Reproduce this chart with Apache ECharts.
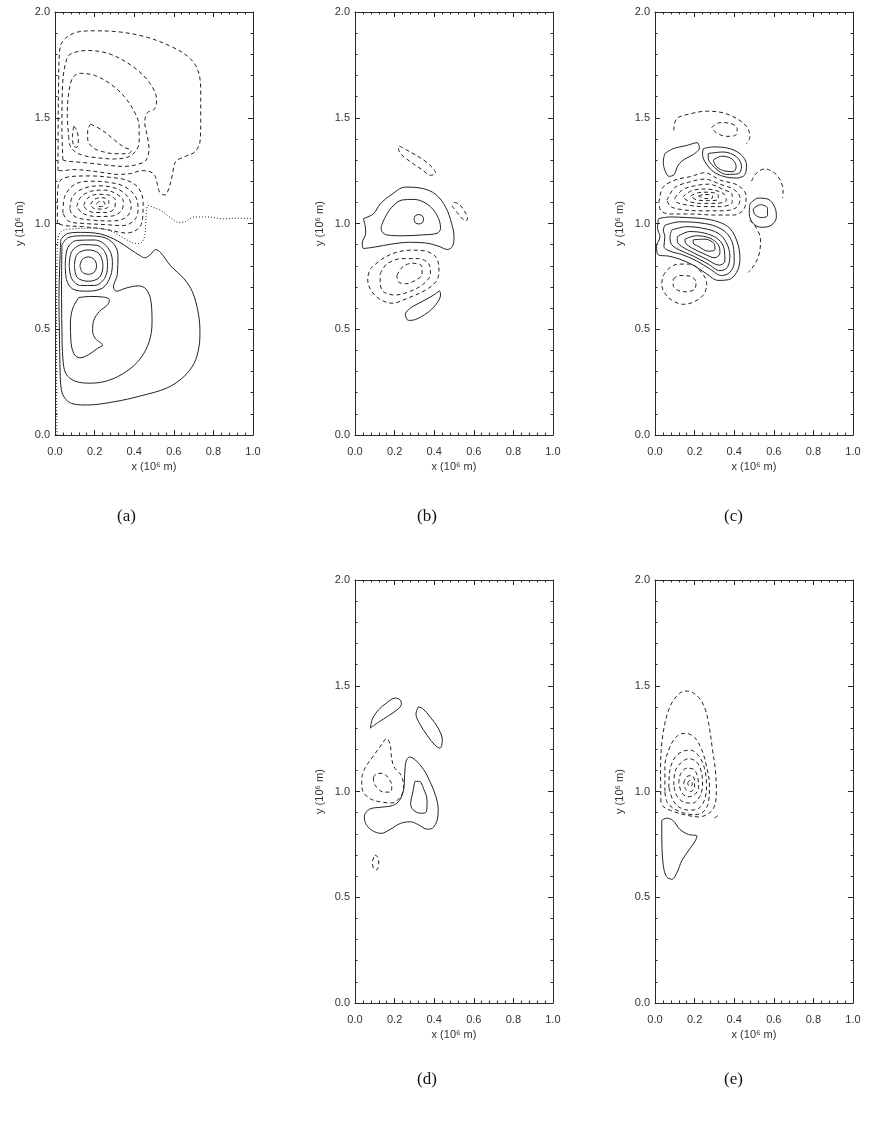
<!DOCTYPE html>
<html>
<head>
<meta charset="utf-8">
<script src="https://cdn.jsdelivr.net/npm/echarts@6/dist/echarts.min.js"></script>
<style>
  html, body { margin: 0; padding: 0; background: #fff; }
  #chart { width: 880px; height: 1121px; }
</style>
</head>
<body>
<div id="chart"></div>
<script>
// Tick labels shared by every panel (units of 10^6 m)
const xTickLabels = ['0.0', '0.2', '0.4', '0.6', '0.8', '1.0'];
const yTickLabels = ['0.0', '0.5', '1.0', '1.5', '2.0'];
const panelCaptions = ['(a)', '(b)', '(c)', '(d)', '(e)'];

// ---- Panel (a): contour polylines, [x, y] in 10^6 m ----
const aSolid = [
  [[0.029,0.923],[0.062,0.952],[0.13,0.958],[0.231,0.95],[0.315,0.918],[0.382,0.877],[0.433,0.846],[0.453,0.838],[0.483,0.854],[0.508,0.877],[0.534,0.862],[0.584,0.8],[0.652,0.738],[0.694,0.677],[0.722,0.585],[0.732,0.492],[0.727,0.415],[0.702,0.338],[0.652,0.277],[0.567,0.223],[0.433,0.185],[0.298,0.157],[0.163,0.142],[0.096,0.146],[0.054,0.169],[0.032,0.215],[0.025,0.338],[0.022,0.492],[0.02,0.646],[0.024,0.8],[0.029,0.923]],
  [[0.035,0.9],[0.07,0.935],[0.15,0.942],[0.24,0.936],[0.295,0.905],[0.318,0.85],[0.315,0.76],[0.295,0.7],[0.31,0.68],[0.36,0.695],[0.42,0.705],[0.46,0.69],[0.485,0.63],[0.49,0.53],[0.475,0.44],[0.43,0.36],[0.36,0.3],[0.27,0.258],[0.18,0.245],[0.1,0.255],[0.055,0.29],[0.04,0.36],[0.035,0.5],[0.033,0.7],[0.035,0.9]],
  [[0.12,0.65],[0.18,0.655],[0.245,0.652],[0.275,0.64],[0.265,0.615],[0.225,0.585],[0.195,0.54],[0.19,0.49],[0.205,0.455],[0.24,0.425],[0.215,0.41],[0.17,0.38],[0.125,0.365],[0.095,0.385],[0.08,0.45],[0.078,0.53],[0.09,0.6],[0.12,0.65]],
  [[0.052,0.8],[0.062,0.88],[0.11,0.92],[0.2,0.922],[0.265,0.888],[0.29,0.82],[0.28,0.75],[0.24,0.695],[0.16,0.68],[0.09,0.69],[0.058,0.735],[0.052,0.8]],
  [[0.072,0.8],[0.085,0.868],[0.14,0.9],[0.21,0.897],[0.255,0.86],[0.265,0.8],[0.25,0.74],[0.2,0.707],[0.13,0.707],[0.085,0.738],[0.072,0.8]],
  [[0.098,0.8],[0.112,0.855],[0.168,0.875],[0.222,0.858],[0.242,0.8],[0.224,0.745],[0.168,0.727],[0.112,0.745],[0.098,0.8]],
  [[0.126,0.8],[0.138,0.83],[0.168,0.842],[0.198,0.83],[0.21,0.8],[0.198,0.77],[0.168,0.76],[0.138,0.77],[0.126,0.8]]
];
const aDashed = [
  [[0.015,1.25],[0.016,1.45],[0.018,1.65],[0.025,1.83],[0.054,1.877],[0.113,1.905],[0.197,1.911],[0.332,1.905],[0.466,1.88],[0.584,1.838],[0.668,1.792],[0.719,1.731],[0.736,1.631],[0.736,1.492],[0.732,1.385],[0.705,1.338],[0.652,1.315],[0.609,1.292],[0.593,1.231],[0.576,1.169],[0.556,1.135],[0.53,1.146],[0.517,1.185],[0.505,1.225],[0.48,1.245],[0.44,1.25],[0.38,1.236],[0.32,1.232],[0.25,1.24],[0.17,1.25],[0.09,1.255],[0.04,1.25],[0.015,1.25]],
  [[0.04,1.3],[0.035,1.45],[0.038,1.65],[0.062,1.785],[0.096,1.808],[0.163,1.818],[0.281,1.8],[0.399,1.738],[0.48,1.662],[0.513,1.585],[0.503,1.542],[0.466,1.523],[0.453,1.477],[0.466,1.415],[0.475,1.354],[0.46,1.3],[0.42,1.28],[0.35,1.27],[0.27,1.275],[0.2,1.283],[0.12,1.29],[0.06,1.295],[0.04,1.3]],
  [[0.07,1.4],[0.062,1.52],[0.07,1.62],[0.09,1.69],[0.13,1.71],[0.2,1.7],[0.28,1.66],[0.35,1.6],[0.4,1.53],[0.425,1.46],[0.425,1.39],[0.41,1.345],[0.37,1.315],[0.3,1.305],[0.22,1.31],[0.15,1.32],[0.1,1.34],[0.075,1.37],[0.07,1.4]],
  [[0.18,1.47],[0.24,1.44],[0.3,1.395],[0.35,1.36],[0.385,1.345],[0.37,1.33],[0.3,1.33],[0.24,1.34],[0.19,1.36],[0.165,1.4],[0.165,1.44],[0.18,1.47]],
  [[0.095,1.46],[0.11,1.44],[0.118,1.4],[0.11,1.36],[0.095,1.365],[0.088,1.41],[0.095,1.46]],
  [[0.012,1.0],[0.012,1.12],[0.025,1.2],[0.08,1.222],[0.18,1.225],[0.28,1.218],[0.36,1.205],[0.42,1.17],[0.445,1.1],[0.442,1.02],[0.42,0.975],[0.36,0.955],[0.26,0.972],[0.14,0.985],[0.05,0.99],[0.012,1.0]],
  [[0.04,1.05],[0.05,1.13],[0.1,1.185],[0.18,1.2],[0.27,1.195],[0.35,1.175],[0.405,1.13],[0.42,1.07],[0.4,1.015],[0.34,0.99],[0.25,0.995],[0.15,1.0],[0.07,1.01],[0.04,1.05]],
  [[0.075,1.07],[0.09,1.13],[0.15,1.168],[0.23,1.178],[0.31,1.165],[0.365,1.13],[0.385,1.08],[0.36,1.03],[0.29,1.012],[0.2,1.015],[0.12,1.025],[0.085,1.045],[0.075,1.07]],
  [[0.11,1.08],[0.13,1.125],[0.18,1.152],[0.25,1.158],[0.31,1.14],[0.345,1.105],[0.335,1.06],[0.285,1.035],[0.21,1.033],[0.14,1.048],[0.11,1.08]],
  [[0.145,1.085],[0.165,1.12],[0.215,1.138],[0.27,1.135],[0.305,1.11],[0.3,1.072],[0.26,1.052],[0.2,1.052],[0.16,1.065],[0.145,1.085]],
  [[0.18,1.09],[0.2,1.115],[0.24,1.122],[0.272,1.105],[0.268,1.078],[0.235,1.068],[0.195,1.072],[0.18,1.09]],
  [[0.21,1.094],[0.225,1.104],[0.248,1.102],[0.252,1.088],[0.235,1.08],[0.215,1.083],[0.21,1.094]]
];
const aZero = [
  [[0.01,0.0],[0.008,0.2],[0.008,0.5],[0.01,0.8],[0.015,0.93],[0.035,0.965],[0.1,0.975],[0.2,0.978],[0.28,0.965],[0.34,0.935],[0.39,0.91],[0.425,0.905],[0.45,0.93],[0.458,1.0],[0.462,1.06],[0.47,1.085],[0.5,1.075],[0.534,1.062],[0.58,1.03],[0.626,1.005],[0.66,1.01],[0.702,1.031],[0.768,1.031],[0.85,1.022],[0.92,1.025],[1.0,1.023]]
];

// ---- Panel (b) ----
const bSolid = [
  [[0.042,1.023],[0.093,1.046],[0.127,1.092],[0.186,1.138],[0.254,1.172],[0.339,1.166],[0.407,1.138],[0.458,1.077],[0.488,1.0],[0.5,0.938],[0.492,0.892],[0.466,0.877],[0.424,0.892],[0.356,0.908],[0.271,0.911],[0.186,0.903],[0.102,0.889],[0.042,0.882],[0.037,0.908],[0.054,0.954],[0.051,0.992],[0.042,1.023]],
  [[0.132,0.985],[0.153,1.031],[0.186,1.077],[0.237,1.111],[0.297,1.114],[0.364,1.092],[0.415,1.038],[0.432,0.977],[0.415,0.954],[0.339,0.946],[0.237,0.942],[0.161,0.946],[0.136,0.962],[0.132,0.985]],
  [[0.298,1.02],[0.305,1.037],[0.322,1.042],[0.339,1.037],[0.346,1.02],[0.339,1.003],[0.322,0.998],[0.305,1.003],[0.298,1.02]],
  [[0.263,0.546],[0.254,0.569],[0.28,0.6],[0.339,0.631],[0.398,0.662],[0.427,0.68],[0.432,0.662],[0.407,0.615],[0.364,0.577],[0.305,0.546],[0.271,0.542],[0.263,0.546]]
];
const bDashed = [
  [[0.224,1.366],[0.28,1.338],[0.347,1.3],[0.393,1.262],[0.407,1.238],[0.381,1.228],[0.339,1.254],[0.28,1.292],[0.234,1.326],[0.22,1.354],[0.224,1.366]],
  [[0.5,1.1],[0.525,1.092],[0.551,1.062],[0.568,1.023],[0.559,1.012],[0.534,1.031],[0.508,1.062],[0.492,1.085],[0.5,1.1]],
  [[0.076,0.785],[0.136,0.831],[0.203,0.862],[0.288,0.874],[0.373,0.865],[0.415,0.831],[0.424,0.769],[0.407,0.723],[0.356,0.685],[0.271,0.649],[0.186,0.623],[0.119,0.646],[0.076,0.692],[0.064,0.738],[0.076,0.785]],
  [[0.127,0.762],[0.161,0.808],[0.237,0.834],[0.322,0.834],[0.373,0.808],[0.381,0.762],[0.347,0.715],[0.28,0.68],[0.203,0.662],[0.144,0.677],[0.127,0.723],[0.127,0.762]],
  [[0.212,0.754],[0.237,0.792],[0.288,0.812],[0.336,0.8],[0.339,0.762],[0.305,0.731],[0.254,0.715],[0.217,0.726],[0.212,0.754]]
];

// ---- Panel (c) ----
const cSolid = [
  [[0.05,1.331],[0.092,1.354],[0.16,1.369],[0.213,1.382],[0.224,1.357],[0.193,1.326],[0.151,1.305],[0.118,1.277],[0.096,1.231],[0.072,1.223],[0.049,1.254],[0.042,1.295],[0.05,1.331]],
  [[0.244,1.354],[0.294,1.362],[0.378,1.354],[0.437,1.323],[0.462,1.277],[0.454,1.231],[0.412,1.215],[0.345,1.223],[0.294,1.246],[0.252,1.292],[0.24,1.331],[0.244,1.354]],
  [[0.269,1.331],[0.345,1.338],[0.412,1.315],[0.437,1.269],[0.42,1.235],[0.361,1.232],[0.319,1.25],[0.286,1.28],[0.269,1.308],[0.269,1.331]],
  [[0.294,1.3],[0.336,1.318],[0.387,1.306],[0.41,1.269],[0.395,1.245],[0.353,1.248],[0.311,1.268],[0.294,1.3]],
  [[0.479,1.092],[0.521,1.12],[0.571,1.115],[0.605,1.077],[0.613,1.031],[0.588,0.992],[0.538,0.982],[0.496,1.0],[0.476,1.046],[0.479,1.092]],
  [[0.496,1.069],[0.533,1.089],[0.568,1.072],[0.568,1.038],[0.538,1.028],[0.504,1.043],[0.496,1.069]],
  [[0.017,1.023],[0.076,1.031],[0.16,1.028],[0.244,1.023],[0.319,1.008],[0.378,0.977],[0.417,0.908],[0.429,0.831],[0.412,0.769],[0.37,0.734],[0.319,0.731],[0.261,0.762],[0.193,0.803],[0.126,0.831],[0.067,0.846],[0.017,0.851],[0.008,0.892],[0.025,0.938],[0.013,0.977],[0.017,1.023]],
  [[0.05,0.992],[0.126,1.008],[0.227,1.003],[0.311,0.985],[0.37,0.946],[0.398,0.877],[0.4,0.815],[0.378,0.769],[0.336,0.754],[0.277,0.785],[0.21,0.823],[0.134,0.854],[0.076,0.869],[0.045,0.892],[0.05,0.938],[0.042,0.969],[0.05,0.992]],
  [[0.084,0.969],[0.16,0.985],[0.244,0.977],[0.319,0.954],[0.361,0.908],[0.378,0.846],[0.365,0.792],[0.328,0.777],[0.269,0.808],[0.193,0.846],[0.126,0.874],[0.084,0.9],[0.076,0.938],[0.084,0.969]],
  [[0.113,0.938],[0.176,0.962],[0.252,0.954],[0.319,0.926],[0.35,0.877],[0.353,0.823],[0.324,0.803],[0.261,0.831],[0.193,0.862],[0.134,0.892],[0.113,0.915],[0.113,0.938]],
  [[0.151,0.926],[0.21,0.942],[0.277,0.931],[0.319,0.9],[0.328,0.862],[0.303,0.838],[0.244,0.858],[0.185,0.885],[0.156,0.905],[0.151,0.926]],
  [[0.193,0.923],[0.252,0.926],[0.298,0.905],[0.303,0.877],[0.269,0.869],[0.219,0.892],[0.193,0.908],[0.193,0.923]]
];
const cDashed = [
  [[0.095,1.44],[0.109,1.495],[0.176,1.518],[0.261,1.531],[0.345,1.523],[0.42,1.492],[0.466,1.454],[0.479,1.408],[0.462,1.377]],
  [[0.286,1.454],[0.328,1.477],[0.378,1.474],[0.415,1.449],[0.408,1.418],[0.361,1.412],[0.311,1.428],[0.286,1.454]],
  [[0.487,1.2],[0.513,1.238],[0.555,1.258],[0.605,1.238],[0.635,1.2],[0.647,1.154],[0.644,1.12]],
  [[0.479,1.015],[0.513,0.977],[0.533,0.923],[0.529,0.869],[0.513,0.823],[0.487,0.785],[0.471,0.769]],
  [[0.042,0.754],[0.067,0.785],[0.118,0.808],[0.176,0.808],[0.235,0.769],[0.261,0.715],[0.244,0.662],[0.193,0.628],[0.143,0.618],[0.084,0.638],[0.045,0.677],[0.034,0.715],[0.042,0.754]],
  [[0.092,0.738],[0.126,0.754],[0.176,0.751],[0.207,0.723],[0.202,0.692],[0.16,0.677],[0.113,0.685],[0.092,0.708],[0.092,0.738]],
  [[0.02,1.1],[0.04,1.17],[0.1,1.205],[0.18,1.222],[0.25,1.24],[0.33,1.205],[0.42,1.18],[0.46,1.13],[0.45,1.07],[0.4,1.04],[0.3,1.04],[0.18,1.045],[0.08,1.045],[0.03,1.06],[0.02,1.1]],
  [[0.06,1.11],[0.1,1.17],[0.17,1.195],[0.25,1.21],[0.33,1.185],[0.4,1.16],[0.43,1.12],[0.41,1.075],[0.34,1.06],[0.24,1.06],[0.14,1.065],[0.08,1.08],[0.06,1.11]],
  [[0.1,1.12],[0.14,1.16],[0.2,1.178],[0.27,1.186],[0.34,1.163],[0.39,1.135],[0.39,1.1],[0.33,1.08],[0.24,1.08],[0.16,1.088],[0.11,1.1],[0.1,1.12]],
  [[0.14,1.125],[0.18,1.153],[0.24,1.163],[0.3,1.158],[0.35,1.138],[0.36,1.11],[0.31,1.095],[0.23,1.095],[0.17,1.105],[0.14,1.125]],
  [[0.18,1.13],[0.22,1.146],[0.27,1.148],[0.32,1.134],[0.32,1.115],[0.27,1.108],[0.21,1.112],[0.18,1.13]],
  [[0.22,1.13],[0.25,1.137],[0.29,1.132],[0.29,1.12],[0.25,1.118],[0.22,1.13]]
];

// ---- Panel (d) ----
const dSolid = [
  [[0.078,1.3],[0.088,1.343],[0.119,1.386],[0.161,1.42],[0.203,1.442],[0.229,1.432],[0.234,1.412],[0.212,1.386],[0.169,1.358],[0.119,1.328],[0.078,1.3]],
  [[0.319,1.4],[0.342,1.392],[0.381,1.351],[0.42,1.3],[0.441,1.243],[0.429,1.205],[0.403,1.22],[0.364,1.266],[0.327,1.32],[0.308,1.366],[0.319,1.4]],
  [[0.051,0.895],[0.076,0.918],[0.136,0.926],[0.19,0.934],[0.224,0.957],[0.246,1.011],[0.251,1.081],[0.258,1.143],[0.276,1.163],[0.305,1.149],[0.347,1.103],[0.381,1.042],[0.407,0.98],[0.42,0.918],[0.415,0.865],[0.39,0.826],[0.364,0.822],[0.322,0.842],[0.28,0.857],[0.229,0.849],[0.178,0.821],[0.132,0.802],[0.088,0.815],[0.056,0.845],[0.047,0.88],[0.051,0.895]],
  [[0.302,1.048],[0.325,1.048],[0.347,1.012],[0.364,0.958],[0.361,0.905],[0.331,0.897],[0.292,0.915],[0.281,0.943],[0.292,0.997],[0.302,1.048]]
];
const dDashed = [
  [[0.034,1.066],[0.051,1.112],[0.085,1.158],[0.127,1.212],[0.161,1.251],[0.178,1.22],[0.183,1.174],[0.195,1.12],[0.234,1.074],[0.246,1.02],[0.229,0.974],[0.186,0.946],[0.127,0.951],[0.076,0.966],[0.042,0.997],[0.034,1.035],[0.034,1.066]],
  [[0.093,1.066],[0.11,1.085],[0.139,1.086],[0.166,1.066],[0.186,1.028],[0.178,0.997],[0.144,0.997],[0.11,1.02],[0.095,1.043],[0.093,1.066]],
  [[0.1,0.7],[0.115,0.69],[0.12,0.66],[0.11,0.63],[0.095,0.635],[0.088,0.665],[0.1,0.7]]
];

// ---- Panel (e) ----
const eSolid = [
  [[0.034,0.863],[0.059,0.874],[0.09,0.863],[0.127,0.82],[0.169,0.797],[0.212,0.789],[0.203,0.766],[0.175,0.728],[0.136,0.674],[0.11,0.615],[0.085,0.585],[0.058,0.598],[0.042,0.65],[0.035,0.75],[0.034,0.863]]
];
const eDashed = [
  [[0.03,0.95],[0.028,1.1],[0.04,1.27],[0.075,1.4],[0.125,1.465],[0.165,1.475],[0.22,1.445],[0.255,1.385],[0.275,1.3],[0.29,1.2],[0.305,1.1],[0.31,1.0],[0.3,0.93],[0.27,0.895],[0.22,0.88],[0.15,0.89],[0.08,0.91],[0.04,0.93],[0.03,0.95]],
  [[0.05,1.0],[0.05,1.12],[0.075,1.21],[0.115,1.265],[0.155,1.275],[0.2,1.255],[0.235,1.2],[0.26,1.12],[0.275,1.03],[0.27,0.95],[0.245,0.905],[0.2,0.89],[0.14,0.9],[0.09,0.922],[0.06,0.952],[0.05,1.0]],
  [[0.07,1.02],[0.075,1.1],[0.1,1.16],[0.14,1.19],[0.18,1.195],[0.22,1.17],[0.25,1.11],[0.26,1.03],[0.25,0.96],[0.22,0.92],[0.17,0.912],[0.12,0.927],[0.09,0.96],[0.07,1.02]],
  [[0.095,1.03],[0.1,1.09],[0.13,1.135],[0.17,1.155],[0.21,1.14],[0.235,1.09],[0.24,1.03],[0.225,0.975],[0.19,0.945],[0.145,0.95],[0.11,0.98],[0.095,1.03]],
  [[0.12,1.04],[0.13,1.085],[0.16,1.11],[0.195,1.105],[0.215,1.07],[0.22,1.02],[0.2,0.985],[0.165,0.975],[0.135,0.995],[0.12,1.04]],
  [[0.145,1.04],[0.16,1.07],[0.185,1.075],[0.2,1.05],[0.2,1.02],[0.18,1.0],[0.155,1.01],[0.145,1.04]],
  [[0.165,1.04],[0.175,1.052],[0.188,1.047],[0.188,1.03],[0.172,1.025],[0.165,1.04]],
  [[0.3,0.875],[0.312,0.882],[0.322,0.89]]
];

// ---- Layout (pixels) ----
const plotW = 198, plotH = 423;
const gridBoxes = [
  { left: 55,  top: 12 },
  { left: 355, top: 12 },
  { left: 655, top: 12 },
  { left: 355, top: 580 },
  { left: 655, top: 580 }
];
const captionPos = [[128, 517], [428, 517], [735, 517], [428, 1080], [735, 1080]];

const contourSets = [
  { solid: aSolid, dashed: aDashed, dotted: aZero },
  { solid: bSolid, dashed: bDashed, dotted: [] },
  { solid: cSolid, dashed: cDashed, dotted: [] },
  { solid: dSolid, dashed: dDashed, dotted: [] },
  { solid: eSolid, dashed: eDashed, dotted: [] }
];

const ink = '#222';
const frameColor = '#2a2a2a';
const labelFont = { fontFamily: 'Liberation Sans, Arial, sans-serif', fontSize: 11, color: '#333' };

const grids = [], xAxes = [], yAxes = [], series = [];

function tickCfg() {
  return {
    axisLine: { show: true, onZero: false, lineStyle: { color: frameColor, width: 1 } },
    axisTick: { show: true, inside: true, length: 5, lineStyle: { color: frameColor, width: 1 } },
    minorTick: { show: true, splitNumber: 5, length: 2.5, lineStyle: { color: frameColor, width: 1 } },
    splitLine: { show: false },
    minorSplitLine: { show: false }
  };
}

gridBoxes.forEach((g, i) => {
  grids.push({ left: g.left, top: g.top, width: plotW, height: plotH, show: false });
  // bottom (labelled) and top (ticks only) x axes
  xAxes.push(Object.assign({
    type: 'value', gridIndex: i, position: 'bottom', min: 0, max: 1, interval: 0.2,
    name: 'x (10\u2076 m)', nameLocation: 'middle', nameGap: 26,
    nameTextStyle: labelFont,
    axisLabel: Object.assign({ margin: 11, formatter: v => xTickLabels[Math.round(v / 0.2)] }, labelFont)
  }, tickCfg()));
  xAxes.push(Object.assign({
    type: 'value', gridIndex: i, position: 'top', min: 0, max: 1, interval: 0.2,
    axisLabel: { show: false }
  }, tickCfg()));
  // left (labelled) and right (ticks only) y axes
  yAxes.push(Object.assign({
    type: 'value', gridIndex: i, position: 'left', min: 0, max: 2, interval: 0.5,
    name: 'y (10\u2076 m)', nameLocation: 'middle', nameGap: 30, nameRotate: 90,
    nameTextStyle: labelFont,
    axisLabel: Object.assign({ margin: 5, formatter: v => yTickLabels[Math.round(v / 0.5)] }, labelFont)
  }, tickCfg()));
  yAxes.push(Object.assign({
    type: 'value', gridIndex: i, position: 'right', min: 0, max: 2, interval: 0.5,
    axisLabel: { show: false }
  }, tickCfg()));

  const set = contourSets[i];
  const styles = { solid: 'solid', dashed: [4, 3], dotted: [1, 2] };
  ['solid', 'dashed', 'dotted'].forEach(kind => {
    set[kind].forEach(pts => {
      series.push({
        type: 'line', xAxisIndex: 2 * i, yAxisIndex: 2 * i,
        data: pts, symbol: 'none', smooth: 0.35, silent: true, animation: false,
        lineStyle: { color: ink, width: 1, type: styles[kind] }
      });
    });
  });
});

const captions = panelCaptions.map((t, i) => ({
  type: 'text', left: captionPos[i][0] - 11, top: captionPos[i][1] - 9,
  style: { text: t, font: '17px "Liberation Serif", "DejaVu Serif", serif', fill: '#111' }
}));

const chart = echarts.init(document.getElementById('chart'), null, { renderer: 'canvas' });
chart.setOption({
  backgroundColor: '#fff',
  animation: false,
  grid: grids,
  xAxis: xAxes,
  yAxis: yAxes,
  series: series,
  graphic: captions
});
</script>
</body>
</html>
